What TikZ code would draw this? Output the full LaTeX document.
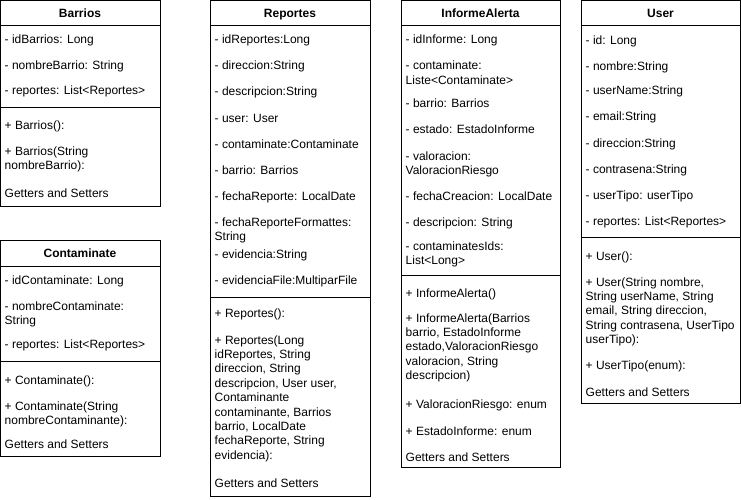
\documentclass[tikz,border=0pt]{standalone}
\usepackage{fontspec}
\setmainfont{Liberation Sans}
\begin{document}
\begin{tikzpicture}[x=1pt,y=-1pt,
  cls/.style={draw=black, line width=1pt, fill=white, anchor=north west, inner sep=0pt, outer sep=0pt},
  txt/.style={anchor=base west, inner sep=0pt, font=\fontsize{12}{14.4}\selectfont, text=black},
  ttl/.style={anchor=base, inner sep=0pt, font=\fontsize{12}{14.4}\selectfont\bfseries, text=black},
  sep/.style={draw=black, line width=1pt}]
\useasboundingbox (0,0) rectangle (741,500);
\newcommand{\crow}[4]{\node[txt] (#1) at (#2,#3+4) {#4};}

% ---------- Barrios ----------
\node[cls, minimum width=160pt, minimum height=206pt] (barrios) at (0,0.5) {};
\draw[sep] (0,26) -- (160,26);
\draw[sep] (0,108) -- (160,108);
\node[ttl] (barriosT) at (80,18) {Barrios};
\crow{b1}{4.5}{40}{- idBarrios: Long}
\crow{b2}{4.5}{66}{- nombreBarrio: String}
\crow{b3}{4.5}{91}{- reportes: List<Reportes>}
\crow{b4}{4.5}{126}{+ Barrios():}
\crow{b5}{4.5}{151}{+ Barrios(String}
\crow{b6}{4.5}{165.4}{nombreBarrio):}
\crow{b7}{4.5}{193}{Getters and Setters}

% ---------- Contaminate ----------
\node[cls, minimum width=160pt, minimum height=216pt] (conta) at (0,240) {};
\draw[sep] (0,266) -- (160,266);
\draw[sep] (0,361) -- (160,361);
\node[ttl] (contaT) at (80,257) {Contaminate};
\crow{c1}{4.5}{280}{- idContaminate: Long}
\crow{c2}{4.5}{306}{- nombreContaminate:}
\crow{c3}{4.5}{320.4}{String}
\crow{c4}{4.5}{344}{- reportes: List<Reportes>}
\crow{c5}{4.5}{380}{+ Contaminate():}
\crow{c6}{4.5}{406}{+ Contaminate(String}
\crow{c7}{4.5}{420.4}{nombreContaminante):}
\crow{c8}{4.5}{444}{Getters and Setters}

% ---------- Reportes ----------
\node[cls, minimum width=160pt, minimum height=496pt] (rep) at (210,0.5) {};
\draw[sep] (210,26) -- (370,26);
\draw[sep] (210,297) -- (370,297);
\node[ttl] (repT) at (290,18) {Reportes};
\crow{r1}{214.5}{40}{- idReportes:Long}
\crow{r2}{214.5}{66}{- direccion:String}
\crow{r3}{214.5}{92}{- descripcion:String}
\crow{r4}{214.5}{118}{- user: User}
\crow{r5}{214.5}{144}{- contaminate:Contaminate}
\crow{r6}{214.5}{170}{- barrio: Barrios}
\crow{r7}{214.5}{196}{- fechaReporte: LocalDate}
\crow{r8}{214.5}{222}{- fechaReporteFormattes:}
\crow{r9}{214.5}{236.4}{String}
\crow{r10}{214.5}{254}{- evidencia:String}
\crow{r11}{214.5}{280}{- evidenciaFile:MultiparFile}
\crow{r12}{214.5}{313}{+ Reportes():}
\crow{r13}{214.5}{340}{+ Reportes(Long}
\crow{r14}{214.5}{354.4}{idReportes, String}
\crow{r15}{214.5}{368.8}{direccion, String}
\crow{r16}{214.5}{383.2}{descripcion, User user,}
\crow{r17}{214.5}{397.6}{Contaminante}
\crow{r18}{214.5}{412}{contaminante, Barrios}
\crow{r19}{214.5}{426.4}{barrio, LocalDate}
\crow{r20}{214.5}{440.8}{fechaReporte, String}
\crow{r21}{214.5}{455.2}{evidencia):}
\crow{r22}{214.5}{483}{Getters and Setters}

% ---------- InformeAlerta ----------
\node[cls, minimum width=159pt, minimum height=467pt] (inf) at (401,0.5) {};
\draw[sep] (401,26) -- (560,26);
\draw[sep] (401,275) -- (560,275);
\node[ttl] (infT) at (480.5,18) {InformeAlerta};
\crow{i1}{405.5}{40}{- idInforme: Long}
\crow{i2}{405.5}{66}{- contaminate:}
\crow{i3}{405.5}{80.4}{Liste<Contaminate>}
\crow{i4}{405.5}{104}{- barrio: Barrios}
\crow{i5}{405.5}{130}{- estado: EstadoInforme}
\crow{i6}{405.5}{156}{- valoracion:}
\crow{i7}{405.5}{170.4}{ValoracionRiesgo}
\crow{i8}{405.5}{196}{- fechaCreacion: LocalDate}
\crow{i9}{405.5}{222}{- descripcion: String}
\crow{i10}{405.5}{246}{- contaminatesIds:}
\crow{i11}{405.5}{260.4}{List<Long>}
\crow{i12}{405.5}{293}{+ InformeAlerta()}
\crow{i13}{405.5}{318}{+ InformeAlerta(Barrios}
\crow{i14}{405.5}{332.4}{barrio, EstadoInforme}
\crow{i15}{405.5}{346.8}{estado,ValoracionRiesgo}
\crow{i16}{405.5}{361.2}{valoracion, String}
\crow{i17}{405.5}{375.6}{descripcion)}
\crow{i18}{405.5}{404}{+ ValoracionRiesgo: enum}
\crow{i19}{405.5}{431}{+ EstadoInforme: enum}
\crow{i20}{405.5}{457}{Getters and Setters}

% ---------- User ----------
\node[cls, minimum width=159pt, minimum height=403pt] (user) at (581,0.5) {};
\draw[sep] (581,26) -- (740,26);
\draw[sep] (581,237) -- (740,237);
\node[ttl] (userT) at (660.5,18) {User};
\crow{u1}{585.5}{41}{- id: Long}
\crow{u2}{585.5}{67}{- nombre:String}
\crow{u3}{585.5}{91}{- userName:String}
\crow{u4}{585.5}{117}{- email:String}
\crow{u5}{585.5}{143}{- direccion:String}
\crow{u6}{585.5}{169}{- contrasena:String}
\crow{u7}{585.5}{195}{- userTipo: userTipo}
\crow{u8}{585.5}{221}{- reportes: List<Reportes>}
\crow{u9}{585.5}{256}{+ User():}
\crow{u10}{585.5}{282}{+ User(String nombre,}
\crow{u11}{585.5}{296.4}{String userName, String}
\crow{u12}{585.5}{310.8}{email, String direccion,}
\crow{u13}{585.5}{325.2}{String contrasena, UserTipo}
\crow{u14}{585.5}{339.6}{userTipo):}
\crow{u15}{585.5}{365}{+ UserTipo(enum):}
\crow{u16}{585.5}{392}{Getters and Setters}
\end{tikzpicture}
\end{document}
